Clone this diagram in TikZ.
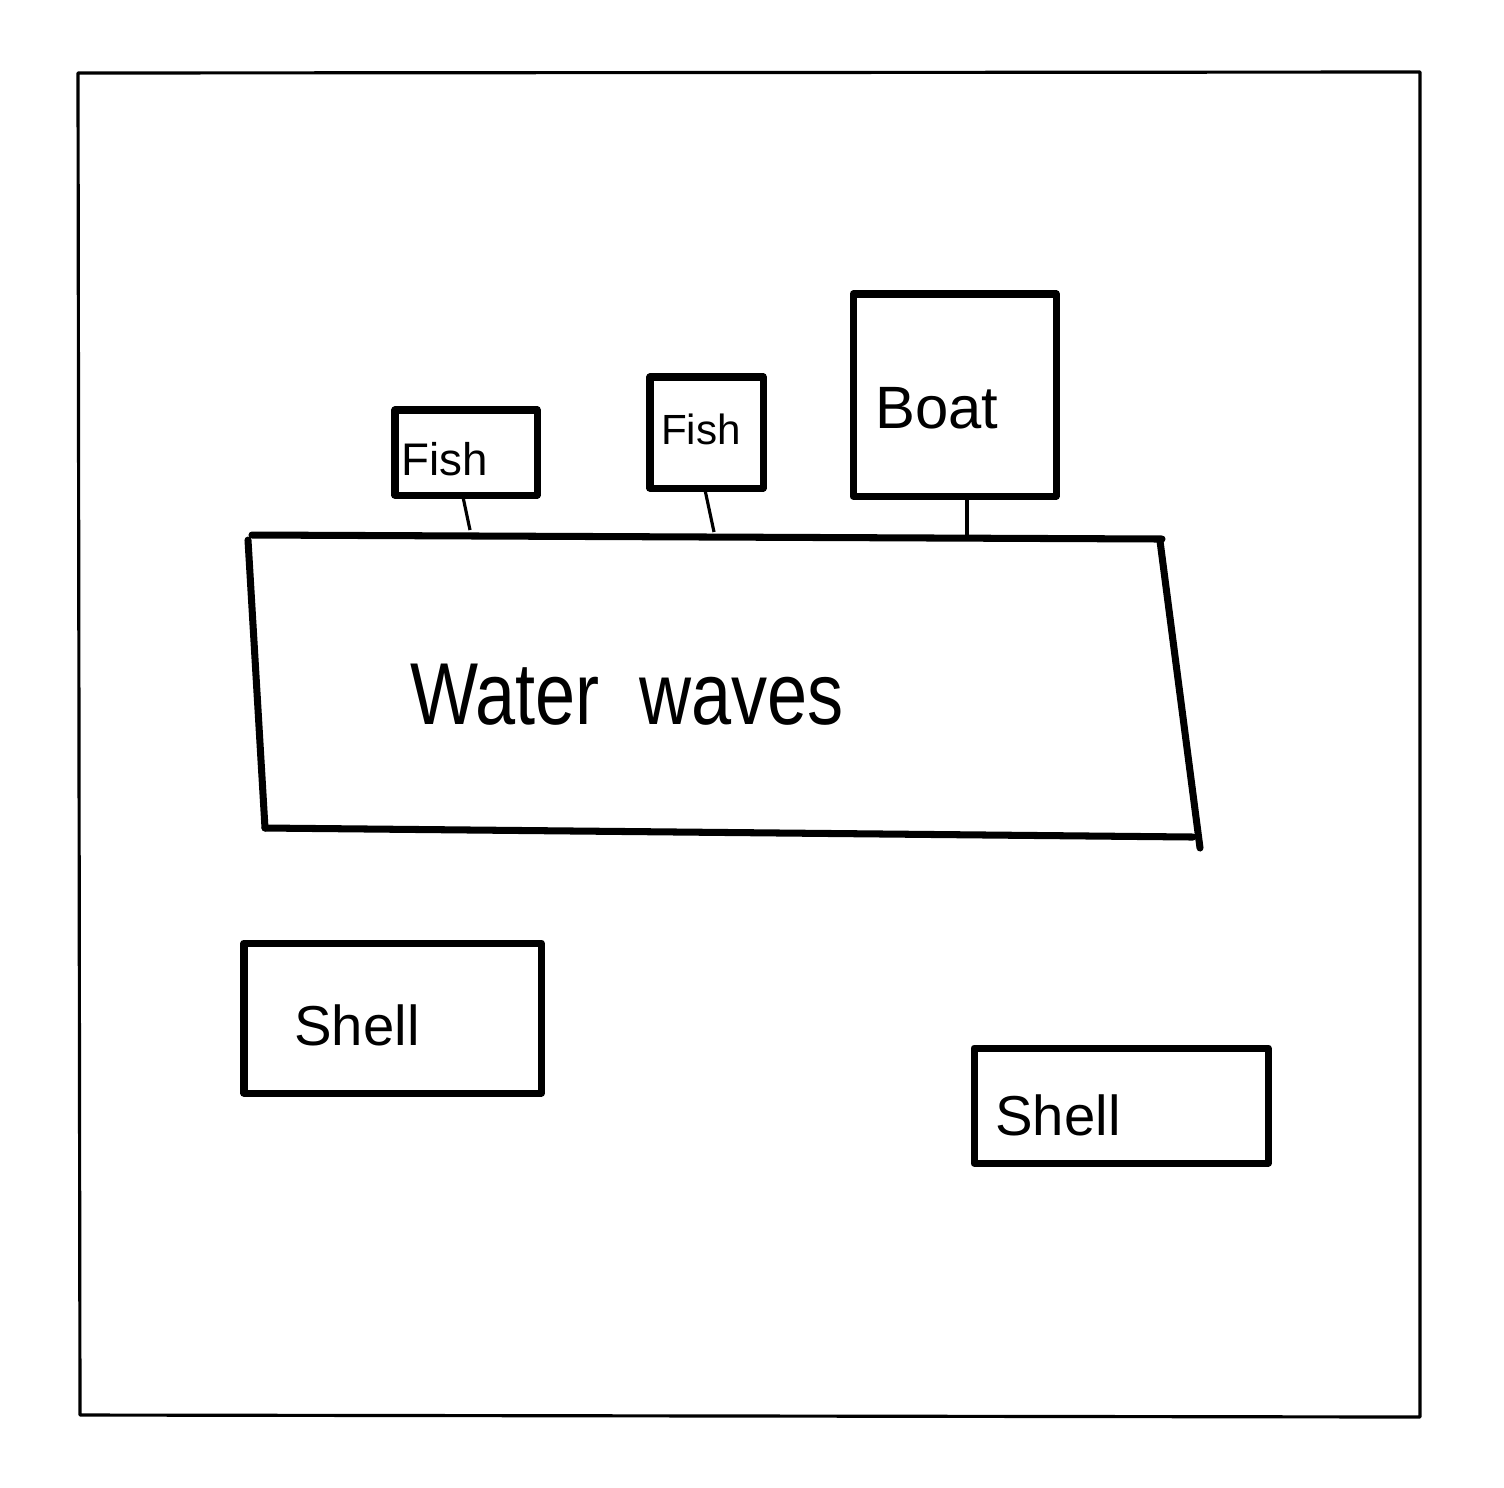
\documentclass[tikz,border=0pt]{standalone}
\usepackage{fontspec}
\setmainfont{Liberation Sans}
\begin{document}
\begin{tikzpicture}[x=0.01cm,y=-0.01cm,
  thick box/.style={draw,line width=2pt,line join=round,inner sep=0pt,outer sep=0pt,anchor=north west},
  thickline/.style={line width=2pt,line cap=round},
  thin link/.style={line width=0.9pt},
  lbl/.style={inner sep=0pt}]
\useasboundingbox (0,0) rectangle (1504,1487);
% frame
\draw[line width=0.9pt,line join=round] (78,73) -- (1420,72) -- (1420,1417) -- (80,1415) -- cycle;
% water waves
\coordinate (wtl) at (252,535);
\coordinate (wtr) at (1162,539);
\coordinate (wlt) at (248,540);
\coordinate (wbl) at (265,828);
\coordinate (wbe) at (1193,837);
\coordinate (wrt) at (1160,541);
\coordinate (wbr) at (1200,848);
\draw[thickline] (wtl) -- (wtr);
\draw[thickline] (wlt) -- (wbl);
\draw[thickline] (wbl) -- (wbe);
\draw[thickline] (wrt) -- (wbr);
\node[lbl,font=\fontsize{25}{30}\selectfont,xscale=0.82] (ww) at (627,695) {Water\ \ waves};
% fish 1
\node[thick box,minimum width=1.42cm,minimum height=0.85cm] (f1) at (395,410) {};
\coordinate (f1b) at (463,497);
\coordinate (f1w) at (470,530);
\draw[thin link] (f1b) -- (f1w);
\node[lbl,font=\fontsize{13}{15}\selectfont] (f1t) at (445,459) {Fish};
% fish 2
\node[thick box,minimum width=1.13cm,minimum height=1.11cm] (f2) at (650,377) {};
\coordinate (f2b) at (705,490);
\coordinate (f2w) at (714,532);
\draw[thin link] (f2b) -- (f2w);
\node[lbl,font=\fontsize{12}{14}\selectfont] (f2t) at (701,429) {Fish};
% boat
\node[thick box,minimum width=2.03cm,minimum height=2.02cm] (boat) at (853,294) {};
\coordinate (bb) at (967,498);
\coordinate (bw) at (967,537);
\draw[thin link] (bb) -- (bw);
\node[lbl,font=\fontsize{17}{20}\selectfont] (bt) at (937,408) {Boat};
% shells
\node[thick box,minimum width=2.97cm,minimum height=1.5cm] (sh1) at (244,943) {};
\node[lbl,font=\fontsize{16}{19}\selectfont] (s1) at (357,1025) {Shell};
\node[thick box,minimum width=2.94cm,minimum height=1.15cm] (sh2) at (974,1048) {};
\node[lbl,font=\fontsize{16}{19}\selectfont] (s2) at (1058,1115) {Shell};
\end{tikzpicture}
\end{document}
